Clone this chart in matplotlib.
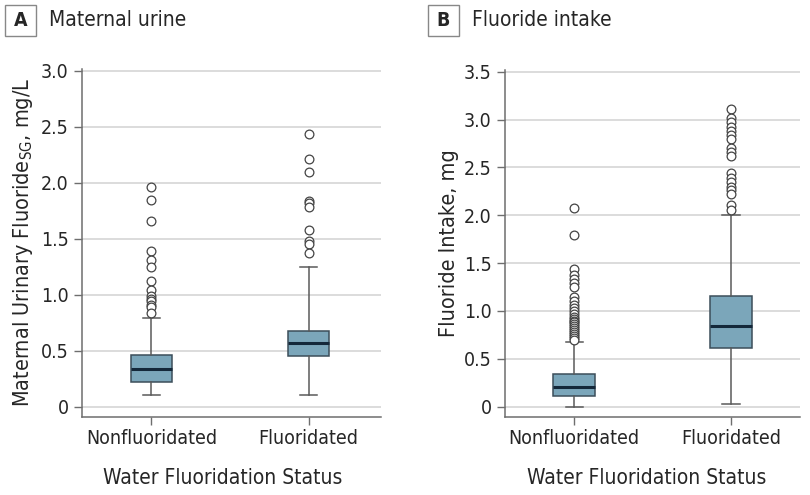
import matplotlib
matplotlib.use("Agg")
import matplotlib.pyplot as plt
from matplotlib.patches import Rectangle

plt.rcParams['font.family'] = ['DejaVu Sans']
plt.rcParams['font.stretch'] = 'condensed'
plt.rcParams['mathtext.fontset'] = 'dejavusans'

groups = ["Nonfluoridated", "Fluoridated"]

# panel A: maternal urinary fluoride (mg/L)
urine_q1 = [0.22, 0.45]
urine_med = [0.34, 0.57]
urine_q3 = [0.46, 0.68]
urine_lo = [0.105, 0.105]
urine_hi = [0.79, 1.25]
urine_out_nonfl = [1.96, 1.85, 1.66, 1.39, 1.31, 1.25, 1.12, 1.04, 0.99, 0.96, 0.94, 0.91, 0.89, 0.84]
urine_out_fl = [2.44, 2.21, 2.10, 1.84, 1.82, 1.78, 1.58, 1.48, 1.45, 1.37]

# panel B: fluoride intake (mg)
intake_q1 = [0.115, 0.61]
intake_med = [0.21, 0.846]
intake_q3 = [0.342, 1.16]
intake_lo = [0.0, 0.028]
intake_hi = [0.68, 2.0]
intake_out_nonfl = [2.08, 1.79, 1.44, 1.38, 1.33, 1.29, 1.25, 1.15, 1.10, 1.06, 1.03, 1.00,
                    0.97, 0.94, 0.92, 0.90, 0.88, 0.86, 0.84, 0.82, 0.80, 0.78, 0.76, 0.74, 0.72, 0.70]
intake_out_fl = [3.11, 3.02, 2.97, 2.92, 2.88, 2.84, 2.80, 2.70, 2.66, 2.62, 2.44, 2.39,
                 2.35, 2.30, 2.26, 2.22, 2.11, 2.06]

urine_ticks = [0, 0.5, 1.0, 1.5, 2.0, 2.5, 3.0]
urine_ticklabels = ["0", "0.5", "1.0", "1.5", "2.0", "2.5", "3.0"]
intake_ticks = [0, 0.5, 1.0, 1.5, 2.0, 2.5, 3.0, 3.5]
intake_ticklabels = ["0", "0.5", "1.0", "1.5", "2.0", "2.5", "3.0", "3.5"]

BOX = "#7ba6ba"
EDGE = "#3c4e5a"
MED = "#14283a"
WHISK = "#5a5a5a"
AXC = "#6e6e6e"
GRID = "#d9d9d9"
TXT = "#262626"


def panel(ax, q1, med, q3, lo, hi, fliers, ticks, ticklabels, ylim, ylabel, xlab_x):
    stats = []
    for i in range(2):
        stats.append(dict(q1=q1[i], med=med[i], q3=q3[i], whislo=lo[i], whishi=hi[i],
                          fliers=fliers[i]))
    ax.bxp(stats, positions=[1, 2], widths=0.265, capwidths=0.11, patch_artist=True,
           boxprops=dict(facecolor=BOX, edgecolor=EDGE, linewidth=1.1),
           medianprops=dict(color=MED, linewidth=2.2),
           whiskerprops=dict(color=WHISK, linewidth=1.1),
           capprops=dict(color=WHISK, linewidth=1.1),
           flierprops=dict(marker="o", markersize=6.3, markerfacecolor="white",
                           markeredgecolor="#444444", markeredgewidth=0.9),
           zorder=3)
    ax.set_ylim(*ylim)
    ax.set_yticks(ticks)
    ax.set_yticklabels(ticklabels)
    ax.set_xticks([1, 2])
    ax.set_xticklabels(groups)
    ax.yaxis.grid(True, color=GRID, linewidth=1.3, zorder=0)
    ax.set_axisbelow(True)
    for s in ["top", "right"]:
        ax.spines[s].set_visible(False)
    for s in ["left", "bottom"]:
        ax.spines[s].set_color(AXC)
        ax.spines[s].set_linewidth(1.1)
    ax.tick_params(colors=AXC, labelcolor=TXT, labelsize=14, length=6, width=1)
    ax.tick_params(axis="x", pad=3)
    ax.set_ylabel(ylabel, fontsize=15.5, color=TXT, labelpad=4)
    ax.set_xlabel("Water Fluoridation Status", fontsize=15, color=TXT)
    ax.xaxis.set_label_coords(xlab_x, -0.148)


fig = plt.figure(figsize=(8.1, 4.95), dpi=100)

ax1 = fig.add_axes([0.1012, 0.1582, 0.369, 0.703])
ax1.set_xlim(0.558, 2.46)
panel(ax1, urine_q1, urine_med, urine_q3, urine_lo, urine_hi,
      [urine_out_nonfl, urine_out_fl], urine_ticks, urine_ticklabels, (-0.09, 3.02),
      "Maternal Urinary Fluoride$_\\mathregular{SG}$, mg/L", 0.472)

ax2 = fig.add_axes([0.6235, 0.1582, 0.364, 0.7008])
ax2.set_xlim(0.559, 2.44)
panel(ax2, intake_q1, intake_med, intake_q3, intake_lo, intake_hi,
      [intake_out_nonfl, intake_out_fl], intake_ticks, intake_ticklabels, (-0.1045, 3.52),
      "Fluoride Intake, mg", 0.482)

# panel tags
for letter, title, x0 in [("A", "Maternal urine", 5), ("B", "Fluoride intake", 428)]:
    fig.patches.append(Rectangle((x0 / 810, 1 - 36 / 495), 31 / 810, 31 / 495,
                                 transform=fig.transFigure, facecolor="white",
                                 edgecolor="#888888", linewidth=1))
    fig.text((x0 + 15.5) / 810, 1 - 20.5 / 495, letter, ha="center", va="center",
             fontsize=14, fontweight="bold", color=TXT)
    fig.text((x0 + 44) / 810, 1 - 20.5 / 495, title, ha="left", va="center",
             fontsize=15, color=TXT)

fig.savefig("out.png", dpi=100)
